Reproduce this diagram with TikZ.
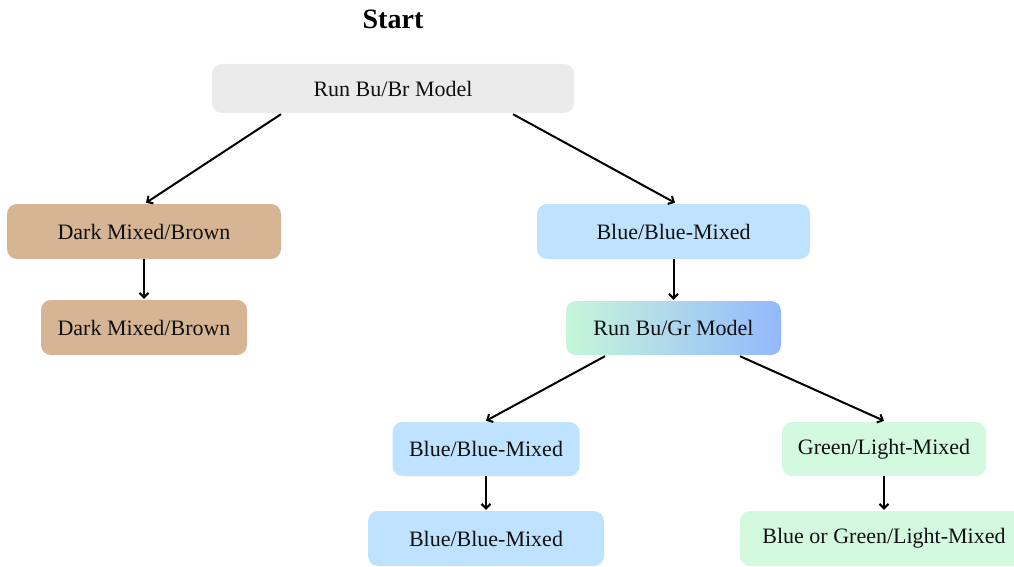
\documentclass[tikz,border=0pt]{standalone}
\usepackage{fontspec}
\setmainfont{Liberation Serif}
\usetikzlibrary{arrows.meta}
\definecolor{greybox}{HTML}{EBEBEB}
\definecolor{tanbox}{HTML}{D5B594}
\definecolor{bluebox}{HTML}{BFE3FE}
\definecolor{greenbox}{HTML}{D3FADF}
\definecolor{gradleft}{HTML}{C5F7DA}
\definecolor{gradright}{HTML}{94B8FD}
\definecolor{txt}{HTML}{111111}
\tikzset{
  box/.style={rounded corners=10pt, inner sep=0pt, text=txt,
    font=\fontsize{22}{26}\selectfont},
  greyb/.style={box, fill=greybox},
  tanb/.style={box, fill=tanbox},
  blueb/.style={box, fill=bluebox},
  greenb/.style={box, fill=greenbox},
  gradb/.style={box, left color=gradleft, right color=gradright},
  conn/.style={line width=2pt, draw=black, -{Straight Barb[length=4.5pt,width=9pt]}},
}
\begin{document}
\begin{tikzpicture}[x=1pt,y=-1pt]
\clip (0,0) rectangle (1014,567);
\fill[white] (0,0) rectangle (1014,567);
\node[font=\bfseries\fontsize{28}{32}\selectfont] (start) at (393,19) {Start};
\node[greyb, minimum width=362pt, minimum height=49pt] (top) at (393,88.5) {Run Bu/Br Model};
\node[tanb, minimum width=274pt, minimum height=55pt] (dark1) at (144,231.5) {Dark Mixed/Brown};
\node[tanb, minimum width=206pt, minimum height=55pt] (dark2) at (144,327.5) {Dark Mixed/Brown};
\node[blueb, minimum width=273pt, minimum height=55pt] (blue1) at (673.5,231.5) {Blue/Blue-Mixed};
\node[gradb, minimum width=215pt, minimum height=54pt] (gr) at (673.5,328) {Run Bu/Gr Model};
\node[blueb, minimum width=187pt, minimum height=54pt] (blue2) at (486,449) {Blue/Blue-Mixed};
\node[blueb, minimum width=236pt, minimum height=55pt] (blue3) at (486,538.5) {Blue/Blue-Mixed};
\node[greenb, minimum width=204pt, minimum height=54pt] (green1) at (884,449) {Green/Light-Mixed};
\node[greenb, minimum width=288pt, minimum height=55pt] (green2) at (884,538.5) {Blue or Green/Light-Mixed};
\draw[conn] ([xshift=-112pt,yshift=-1pt]top.south) -- ([xshift=2pt,yshift=1pt]dark1.north);
\draw[conn] ([xshift=120pt,yshift=-1pt]top.south) -- ([xshift=1.5pt,yshift=1pt]blue1.north);
\draw[conn] (dark1.south) -- ([yshift=1pt]dark2.north);
\draw[conn] (blue1.south) -- ([yshift=1pt]gr.north);
\draw[conn] ([xshift=-68.5pt,yshift=-1pt]gr.south) -- ([yshift=1pt]blue2.north);
\draw[conn] ([xshift=66.5pt,yshift=-1pt]gr.south) -- ([yshift=1pt]green1.north);
\draw[conn] (blue2.south) -- ([yshift=1pt]blue3.north);
\draw[conn] (green1.south) -- ([yshift=1pt]green2.north);
\end{tikzpicture}
\end{document}
